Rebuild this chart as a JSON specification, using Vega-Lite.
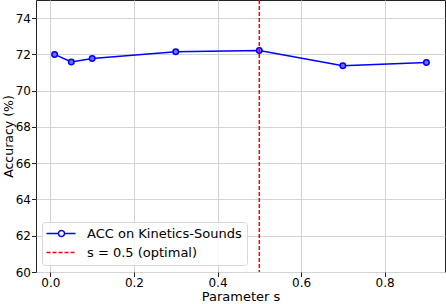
{
  "$schema": "https://vega.github.io/schema/vega-lite/v6.json",
  "width": 409,
  "height": 272,
  "autosize": "none",
  "padding": {"left": 36, "top": 0, "right": 1, "bottom": 32},
  "background": "white",
  "config": {
    "font": "DejaVu Sans",
    "view": {"stroke": "#222", "strokeWidth": 1},
    "axis": {
      "labelFont": "DejaVu Sans", "titleFont": "DejaVu Sans",
      "labelFontSize": 12, "titleFontSize": 13, "labelColor": "#000", "titleColor": "#000",
      "titleFontWeight": "normal", "tickColor": "#222", "tickSize": 4.5, "domain": false,
      "gridColor": "#d3d3d3", "gridWidth": 1, "gridOpacity": 1, "labelPadding": 1.5
    }
  },
  "datasets": {
    "acc": [
      {"s": 0.01, "acc": 72.0, "series": "ACC on Kinetics-Sounds"},
      {"s": 0.05, "acc": 71.58, "series": "ACC on Kinetics-Sounds"},
      {"s": 0.1, "acc": 71.78, "series": "ACC on Kinetics-Sounds"},
      {"s": 0.3, "acc": 72.15, "series": "ACC on Kinetics-Sounds"},
      {"s": 0.5, "acc": 72.22, "series": "ACC on Kinetics-Sounds"},
      {"s": 0.7, "acc": 71.38, "series": "ACC on Kinetics-Sounds"},
      {"s": 0.9, "acc": 71.55, "series": "ACC on Kinetics-Sounds"}
    ],
    "opt": [{"s": 0.5, "series": "s = 0.5 (optimal)"}]
  },
  "layer": [
    {
      "data": {"name": "acc"},
      "mark": {"type": "line", "strokeWidth": 1.5, "point": {"filled": false, "size": 30, "strokeWidth": 1.5, "fill": "#6f6fff"}},
      "encoding": {
        "x": {"field": "s", "type": "quantitative",
              "scale": {"domain": [-0.0345, 0.9445], "nice": false, "zero": false},
              "axis": {"values": [0, 0.2, 0.4, 0.6, 0.8], "format": ".1f", "title": "Parameter s", "titlePadding": 2, "labelPadding": 1}},
        "y": {"field": "acc", "type": "quantitative",
              "scale": {"domain": [60, 75], "nice": false, "zero": false},
              "axis": {"values": [60, 62, 64, 66, 68, 70, 72, 74], "title": "Accuracy (%)", "titlePadding": 0, "titleFontSize": 12.5, "labelPadding": 1}},
        "color": {"field": "series", "type": "nominal",
                  "scale": {"domain": ["ACC on Kinetics-Sounds", "s = 0.5 (optimal)"], "range": ["#0000ff", "#ff0000"]},
                  "legend": {
                    "title": null, "orient": "none", "legendX": 6, "legendY": 222,
                    "padding": 5, "fillColor": "rgba(255,255,255,0.8)", "strokeColor": "#d8d8d8", "cornerRadius": 3,
                    "labelFont": "DejaVu Sans", "labelFontSize": 13, "labelColor": "#000",
                    "symbolType": "stroke", "symbolSize": 100, "symbolStrokeWidth": 1.5, "labelOffset": 27, "rowPadding": 5,
                    "encode": {
                      "symbols": {"update": {
                        "size": {"value": 100},
                        "strokeDash": {"signal": "datum.index == 1 ? [4, 2] : [1, 0]"},
                        "shape": {"signal": "datum.index == 0 ? 'M-1.4,0H1M2.2,0H4.4M1,0a0.6,0.6 0 1,0 1.2,0a0.6,0.6 0 1,0 -1.2,0' : 'M-1.4,0H4.4'"}
                      }}
                    }
                  }}
      }
    },
    {
      "data": {"name": "opt"},
      "mark": {"type": "rule", "strokeWidth": 1.5, "strokeDash": [4, 2]},
      "encoding": {
        "x": {"field": "s", "type": "quantitative"},
        "color": {"field": "series", "type": "nominal"}
      }
    }
  ]
}
